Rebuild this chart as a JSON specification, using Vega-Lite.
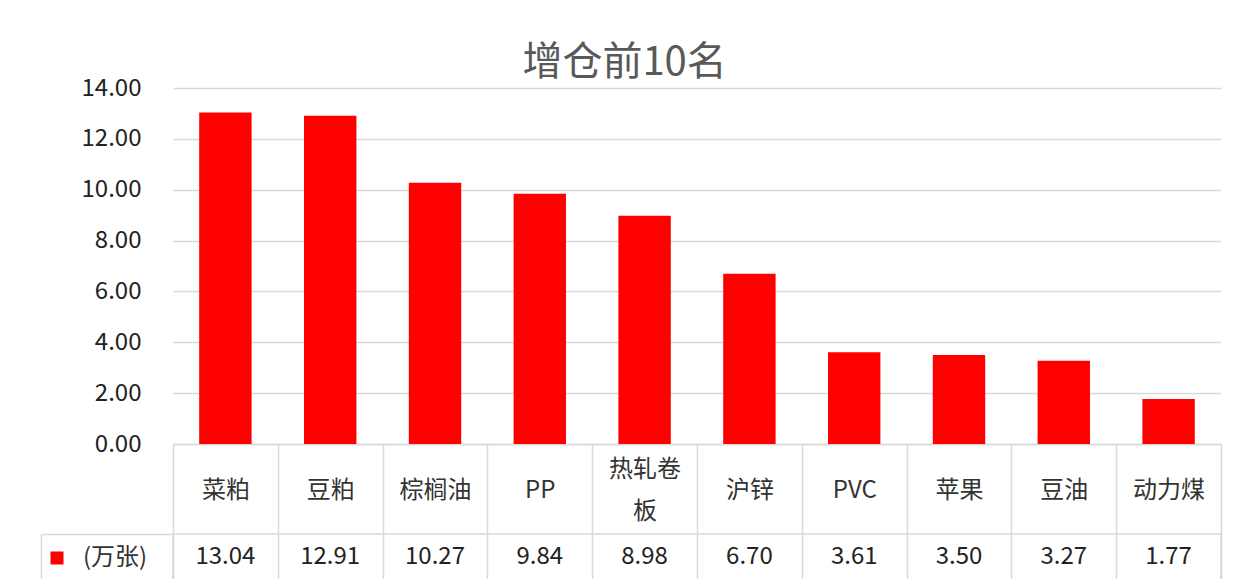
{
  "$schema": "https://vega.github.io/schema/vega-lite/v6.json",
  "padding": {"left": 39, "top": 43, "right": 10, "bottom": 0},
  "title": {"text": "增仓前10名", "fontSize": 40, "font": "Noto Sans CJK SC", "fontWeight": "normal", "color": "#595959", "anchor": "middle", "offset": -7, "dx": -6},
  "data": {"values": [
    {"cat": "菜粕", "value": 13.04, "series": "(万张)"},
    {"cat": "豆粕", "value": 12.91, "series": "(万张)"},
    {"cat": "棕榈油", "value": 10.27, "series": "(万张)"},
    {"cat": "PP", "value": 9.84, "series": "(万张)"},
    {"cat": "热轧卷板", "value": 8.98, "series": "(万张)"},
    {"cat": "沪锌", "value": 6.70, "series": "(万张)"},
    {"cat": "PVC", "value": 3.61, "series": "(万张)"},
    {"cat": "苹果", "value": 3.50, "series": "(万张)"},
    {"cat": "豆油", "value": 3.27, "series": "(万张)"},
    {"cat": "动力煤", "value": 1.77, "series": "(万张)"}
  ]},
  "spacing": 90,
  "bounds": "flush",
  "config": {"font": "Noto Sans CJK SC"},
  "vconcat": [
    {
      "width": 1048,
      "height": 356,
      "view": {"stroke": null},
      "mark": {"type": "bar", "width": {"band": 0.5}},
      "encoding": {
        "x": {"field": "cat", "type": "nominal", "sort": null,
          "scale": {"paddingInner": 0, "paddingOuter": 0},
          "axis": {"title": null, "labelAngle": 0, "tickBand": "extent", "ticks": true, "tickSize": 90, "tickColor": "#d9d9d9", "tickWidth": 1.5,
            "domain": true, "domainColor": "#d9d9d9", "domainWidth": 1.5,
            "labelPadding": {"condition": {"test": "datum.value == '热轧卷板'", "value": -65}, "value": -44},
            "labelBaseline": "middle",
            "labelFontSize": 24, "labelColor": "#333333", "labelOverlap": false, "labelBound": false,
            "labelExpr": "datum.label == '热轧卷板' ? ['热轧卷', '板'] : datum.label", "labelLineHeight": 42, "grid": false}},
        "y": {"field": "value", "type": "quantitative",
          "scale": {"domain": [0, 14], "nice": false},
          "axis": {"title": null, "values": [0, 2, 4, 6, 8, 10, 12, 14], "format": ".2f", "labelFontSize": 24, "labelColor": "#222222",
            "labelPadding": 32, "ticks": false, "tickSize": 0, "domain": false, "grid": true, "gridColor": "#d9d9d9", "gridWidth": 1.5}},
        "color": {"field": "series", "type": "nominal", "scale": {"range": ["#ff0000"]},
          "legend": {"title": null, "orient": "none", "legendX": -128, "legendY": 458, "symbolType": "square", "symbolSize": 169,
            "symbolStrokeWidth": 0, "labelFontSize": 24, "labelColor": "#333333", "labelOffset": 14, "padding": 0}}
      }
    },
    {
      "width": 1048,
      "height": 46,
      "view": {"stroke": "#d9d9d9", "strokeWidth": 1.5},
      "mark": {"type": "text", "fontSize": 24, "color": "#222222", "baseline": "middle"},
      "encoding": {
        "x": {"field": "cat", "type": "nominal", "sort": null,
          "scale": {"paddingInner": 0, "paddingOuter": 0},
          "axis": {"title": null, "labels": false, "ticks": false, "domain": false, "grid": true, "tickBand": "extent", "gridColor": "#d9d9d9", "gridWidth": 1.5}},
        "y": {"field": "series", "type": "nominal",
          "scale": {"paddingInner": 0, "paddingOuter": 0},
          "axis": {"title": null, "labels": false, "offset": 132, "domain": true, "domainColor": "#d9d9d9", "domainWidth": 1.5,
            "ticks": true, "tickBand": "extent", "tickSize": -132, "tickColor": "#d9d9d9", "tickWidth": 1.5, "grid": false}},
        "text": {"field": "value", "type": "quantitative", "format": ".2f"}
      }
    }
  ]
}
